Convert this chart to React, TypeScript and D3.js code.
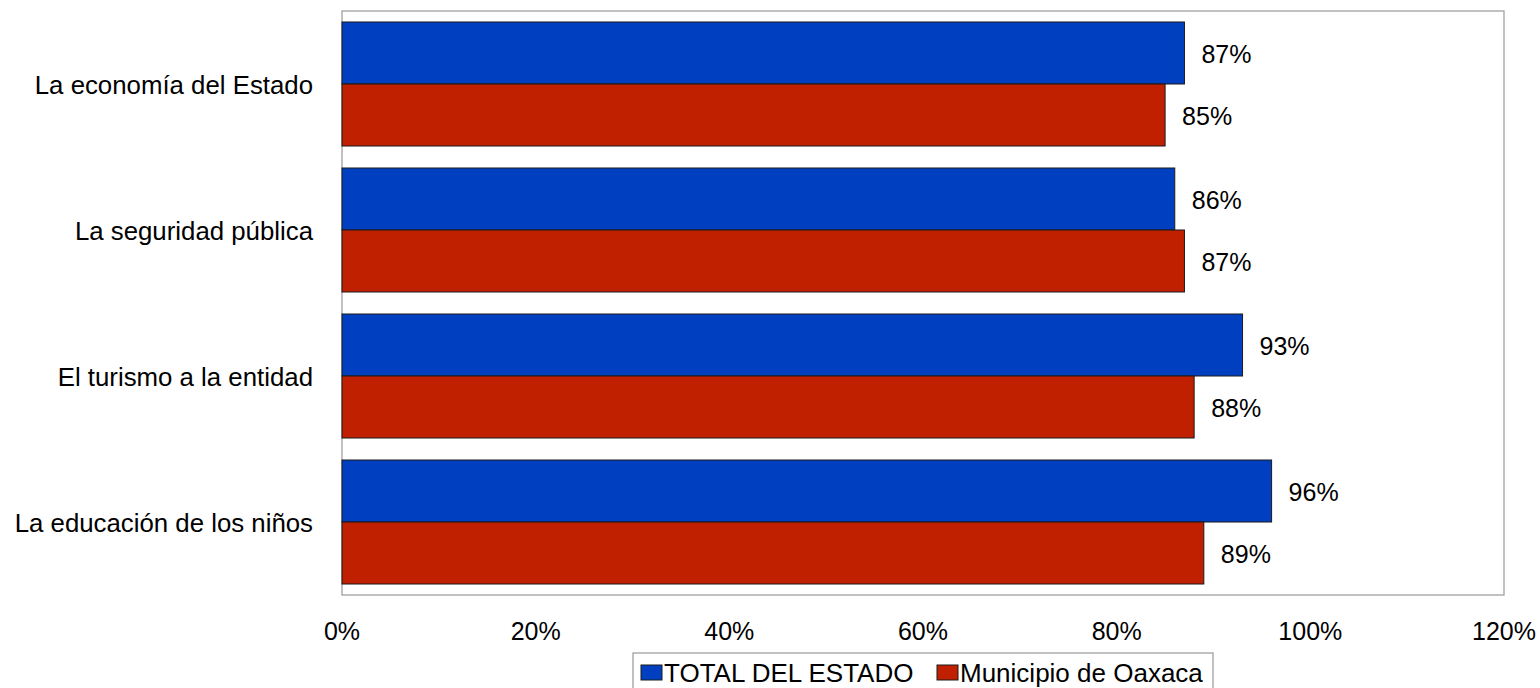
import React from "react";
import * as d3 from "d3";

const categories = ["La economía del Estado", "La seguridad pública", "El turismo a la entidad", "La educación de los niños"];
const seriesNames = ["TOTAL DEL ESTADO", "Municipio de Oaxaca"];
const totalEstado = [87, 86, 93, 96];
const municipio = [85, 87, 88, 89];
const xTicks = [0, 20, 40, 60, 80, 100, 120];
const colors = ["#0040C0", "#C02000"];

const W = 1540, H = 688;
const plot = { left: 342, right: 1504, top: 11, bottom: 595 };
const FONT = "'Liberation Sans', Arial, sans-serif";

export default function App() {
  const x = d3.scaleLinear().domain([0, 120]).range([plot.left, plot.right]);
  const y = d3.scaleBand<string>().domain(categories).range([plot.top, plot.bottom]).paddingInner(0.1507).paddingOuter(0.0753);
  const series = [totalEstado, municipio];
  const bh = y.bandwidth() / 2;
  const legendX = [641, 937];
  return (
    <svg width={W} height={H} style={{ position: "absolute", left: 0, top: 0, background: "#fff" }}>
      <rect x={plot.left} y={plot.top} width={plot.right - plot.left} height={plot.bottom - plot.top} fill="#fff" stroke="#a0a0a0" strokeWidth={1.3} />
      {categories.map((c, i) => (
        <g key={c}>
          {series.map((s, j) => {
            const yy = (y(c) as number) + j * bh;
            return (
              <g key={j}>
                <rect x={x(0)} y={yy} width={x(s[i]) - x(0)} height={bh} fill={colors[j]} stroke="#1a1a1a" strokeWidth={1} />
                <text x={x(s[i]) + 17} y={yy + bh / 2 + 1} dominantBaseline="central" fontFamily={FONT} fontSize={25} fill="#000">{s[i]}%</text>
              </g>
            );
          })}
          <text x={313} y={(y(c) as number) + y.bandwidth() / 2 + 1} textAnchor="end" dominantBaseline="central" fontFamily={FONT} fontSize={25.8} fill="#000">{c}</text>
        </g>
      ))}
      {xTicks.map((t) => (
        <text key={t} x={x(t)} y={631} textAnchor="middle" dominantBaseline="central" fontFamily={FONT} fontSize={25} fill="#000">{t}%</text>
      ))}
      <rect x={633} y={653} width={580} height={40} fill="#fff" stroke="#a0a0a0" strokeWidth={1.3} />
      {seriesNames.map((n, j) => {
        const lx = legendX[j];
        return (
          <g key={n}>
            <rect x={lx} y={665} width={21} height={15} fill={colors[j]} stroke="#1a1a1a" strokeWidth={1} />
            <text x={lx + 23} y={673} dominantBaseline="central" fontFamily={FONT} fontSize={26} fill="#000">{n}</text>
          </g>
        );
      })}
    </svg>
  );
}
